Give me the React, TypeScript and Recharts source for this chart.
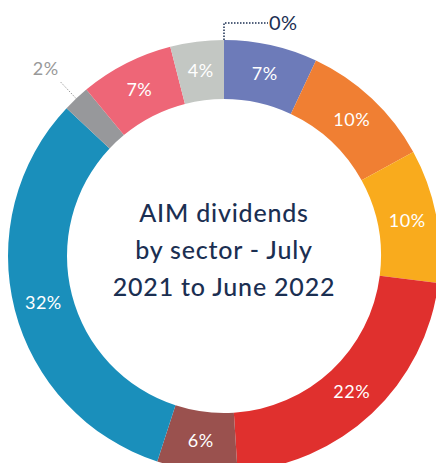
import { PieChart, Pie, Cell, Label } from 'recharts';

const sectors = ['Zero', 'Sector A', 'Sector B', 'Sector C', 'Sector D', 'Sector E', 'Sector F', 'Sector G', 'Sector H', 'Sector I'];
const shares = [0, 7, 10, 10, 22, 6, 32, 2, 7, 4];
const colors = ['#1b2f52', '#6d7bb9', '#f07f33', '#f9ab1d', '#e0302e', '#9a514e', '#1a8fbb', '#97989b', '#ee6677', '#c3c7c3'];
const titleLines = ['AIM dividends', 'by sector - July', '2021 to June 2022'];

const data = sectors.map((name, i) => ({ name, value: shares[i] }));

const FONT = 'Lato, "Noto Sans", sans-serif';
const RAD = Math.PI / 180;
const CX = 224;
const CY = 256;

function renderLabel(props: any) {
  const { cx, cy, midAngle, innerRadius, outerRadius, index, value } = props;
  const cos = Math.cos(-midAngle * RAD);
  const sin = Math.sin(-midAngle * RAD);

  if (index === 0) {
    // zero share: dotted leader up from the top then to the right
    const x0 = cx + outerRadius * cos;
    const y0 = cy + outerRadius * sin;
    return (
      <g>
        <polyline
          points={`${x0},${y0} ${x0},${y0 - 17} ${x0 + 44},${y0 - 17}`}
          fill="none"
          stroke="#1b2f52"
          strokeWidth={1.5}
          strokeDasharray="1.5 1.5"
        />
        <text x={x0 + 45} y={y0 - 17} dy="0.35em" fill="#1b2f52" fontSize={20} fontFamily={FONT} textAnchor="start" letterSpacing={0.5}>
          {value}%
        </text>
      </g>
    );
  }

  if (index === 7) {
    // small grey slice: leader outward to the label
    const x0 = cx + outerRadius * cos;
    const y0 = cy + outerRadius * sin;
    const x1 = cx + (outerRadius + 24) * cos;
    const y1 = cy + (outerRadius + 24) * sin;
    return (
      <g>
        <line x1={x0} y1={y0} x2={x1} y2={y1} stroke="#999" strokeWidth={1} strokeDasharray="1.5 1.5" />
        <text x={x1 - 14} y={y1 - 12} dy="0.35em" fill="#999" fontSize={18} fontFamily={FONT} textAnchor="middle" letterSpacing={0.5}>
          {value}%
        </text>
      </g>
    );
  }

  const r = (innerRadius + outerRadius) / 2;
  const x = cx + r * cos;
  const y = cy + r * sin;
  return (
    <text x={x} y={y} dy="0.35em" fill="#fff" fontSize={18} fontFamily={FONT} textAnchor="middle" letterSpacing={0.5}>
      {value}%
    </text>
  );
}

function CenterTitle() {
  return (
    <text x={CX} y={CY} textAnchor="middle" fill="#1b2f52" fontSize={25} fontWeight={500} fontFamily={FONT} letterSpacing={0.8}>
      {titleLines.map((line, i) => (
        <tspan key={line} x={CX} y={CY - 6 + (i - 1) * 37} dy="0.35em">
          {line}
        </tspan>
      ))}
    </text>
  );
}

export default function App() {
  return (
    <div style={{ position: 'absolute', left: 0, top: 0 }}>
      <PieChart width={436} height={463} margin={{ top: 0, right: 0, bottom: 0, left: 0 }}>
        <Pie
          data={data}
          dataKey="value"
          nameKey="name"
          cx={CX}
          cy={CY}
          innerRadius={157}
          outerRadius={216}
          startAngle={90}
          endAngle={-270}
          stroke="none"
          label={renderLabel}
          labelLine={false}
          isAnimationActive={false}
        >
          {data.map((d, i) => (
            <Cell key={d.name} fill={colors[i]} />
          ))}
          <Label position="center" content={CenterTitle} />
        </Pie>
      </PieChart>
    </div>
  );
}
